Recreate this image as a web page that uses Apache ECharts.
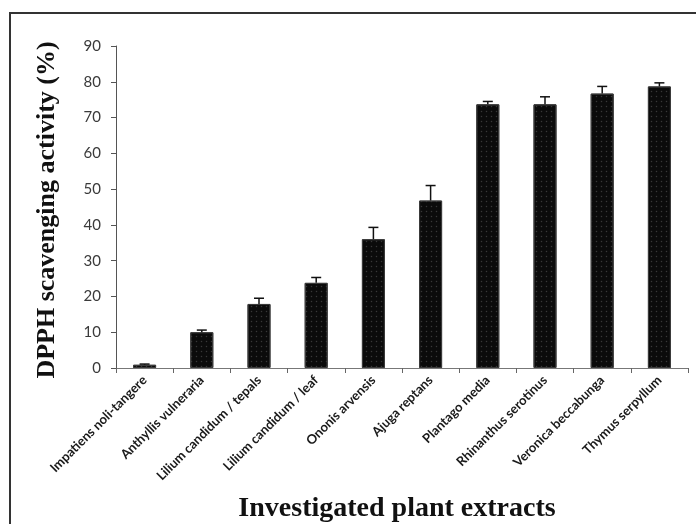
<!DOCTYPE html>
<html>
<head>
<meta charset="utf-8">
<script src="https://cdn.jsdelivr.net/npm/echarts@6/dist/echarts.min.js"></script>
<style>
  html, body { margin: 0; padding: 0; background: #ffffff; }
  #chart { width: 696px; height: 524px; }
</style>
</head>
<body>
<div id="chart"></div>
<script>
// Plant extracts tested for DPPH radical scavenging
const categories = [
  'Impatiens noli-tangere',
  'Anthyllis vulneraria',
  'Lilium candidum / tepals',
  'Lilium candidum / leaf',
  'Ononis arvensis',
  'Ajuga reptans',
  'Plantago media',
  'Rhinanthus serotinus',
  'Veronica beccabunga',
  'Thymus serpyllum'
];
// Mean scavenging activity (%)
const activity = [0.9, 10, 17.9, 23.8, 36, 46.8, 73.7, 73.7, 76.7, 78.7];
// Standard deviation (upper whisker)
const deviation = [0.2, 0.6, 1.6, 1.5, 3.3, 4.2, 0.8, 2.1, 2.0, 1.0];
// Value axis ticks
const yTicks = [0, 10, 20, 30, 40, 50, 60, 70, 80, 90];

const errorData = activity.map((v, i) => [i, v, deviation[i]]);

const chart = echarts.init(document.getElementById('chart'));
chart.setOption({
  animation: false,
  backgroundColor: '#ffffff',
  grid: { left: 116, right: 8, top: 46, bottom: 156, containLabel: false },
  graphic: [
    {
      type: 'rect',
      shape: { x: 10, y: 13, width: 700, height: 530 },
      style: { fill: 'none', stroke: '#333333', lineWidth: 2 },
      silent: true
    },
    {
      type: 'text',
      x: 47,
      y: 210,
      rotation: Math.PI / 2,
      style: {
        text: 'DPPH scavenging activity (%)',
        font: 'bold 26px "Liberation Serif", "Times New Roman", serif',
        fill: '#111111',
        textAlign: 'center',
        textVerticalAlign: 'middle'
      },
      silent: true
    },
    {
      type: 'text',
      x: 397,
      y: 509,
      style: {
        text: 'Investigated plant extracts',
        font: 'bold 28px "Liberation Serif", "Times New Roman", serif',
        fill: '#111111',
        textAlign: 'center',
        textVerticalAlign: 'middle'
      },
      silent: true
    }
  ],
  xAxis: {
    type: 'category',
    data: categories,
    axisLine: { lineStyle: { color: '#777777', width: 1 } },
    axisTick: { show: true, alignWithLabel: false, length: 5, lineStyle: { color: '#666666' } },
    axisLabel: {
      rotate: 45,
      interval: 0,
      margin: 10,
      color: '#1a1a1a',
      fontSize: 13,
      fontWeight: 'bold',
      fontFamily: 'Lato, "Open Sans", sans-serif'
    },
    splitLine: { show: false }
  },
  yAxis: {
    type: 'value',
    min: yTicks[0],
    max: yTicks[yTicks.length - 1],
    interval: 10,
    axisLine: { show: true, lineStyle: { color: '#555555', width: 1 } },
    axisTick: { show: true, length: 5, lineStyle: { color: '#555555' } },
    axisLabel: {
      margin: 15,
      color: '#3a3a3a',
      fontSize: 15,
      fontFamily: 'Lato, "Open Sans", sans-serif'
    },
    splitLine: { show: false }
  },
  series: [
    {
      type: 'bar',
      data: activity,
      barWidth: 23,
      itemStyle: {
        color: '#0b0b0b',
        borderColor: '#3a3a3a',
        borderWidth: 1,
        decal: {
          symbol: 'circle',
          symbolSize: 0.5,
          dashArrayX: [3, 2],
          dashArrayY: [3, 2],
          color: 'rgba(110,110,110,0.45)'
        }
      }
    },
    {
      type: 'custom',
      data: errorData,
      z: 5,
      renderItem: function (params, api) {
        const idx = api.value(0);
        const top = api.coord([idx, api.value(1) + api.value(2)]);
        const base = api.coord([idx, api.value(1)]);
        const half = 5;
        return {
          type: 'group',
          children: [
            {
              type: 'line',
              shape: { x1: base[0], y1: base[1], x2: top[0], y2: top[1] },
              style: { stroke: '#111111', lineWidth: 1.5 }
            },
            {
              type: 'line',
              shape: { x1: top[0] - half, y1: top[1], x2: top[0] + half, y2: top[1] },
              style: { stroke: '#111111', lineWidth: 1.5 }
            }
          ]
        };
      }
    }
  ]
});
</script>
</body>
</html>
